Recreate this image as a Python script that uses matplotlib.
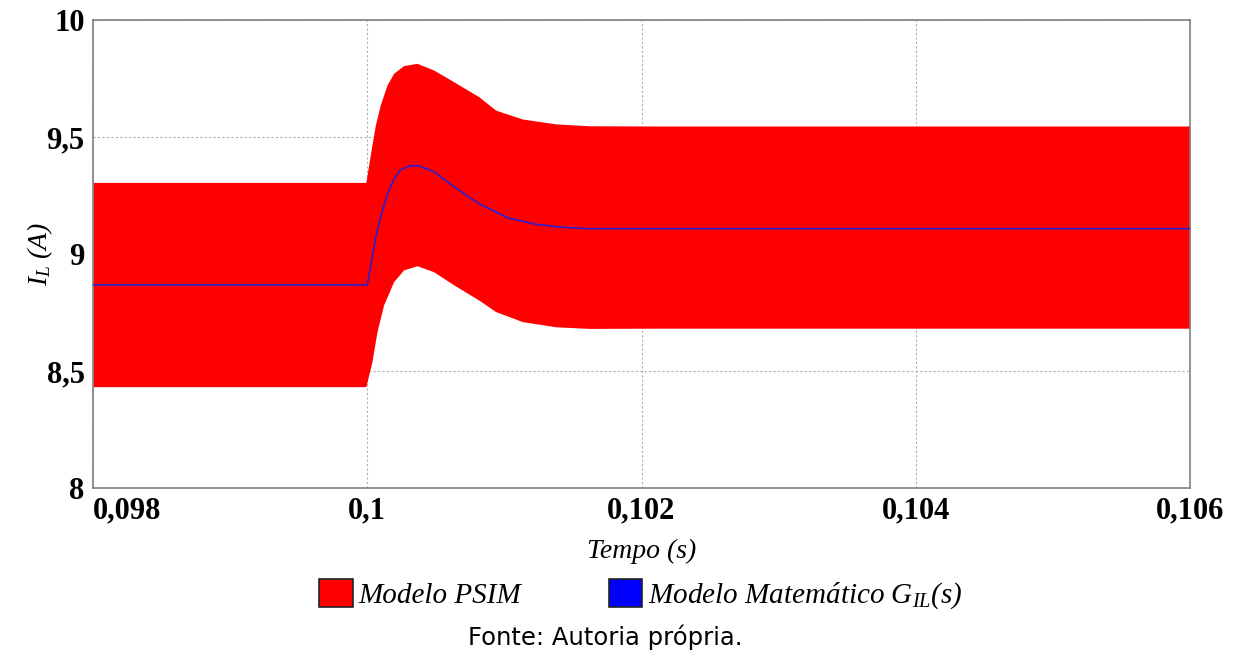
import matplotlib
matplotlib.use("Agg")
import matplotlib.pyplot as plt
from matplotlib.patches import Patch
import numpy as np

# ---- data ----
# PSIM model: envelope of the switching ripple (upper / lower)
t_env_up = [0.098, 0.09999, 0.100022, 0.100059, 0.100095, 0.100144, 0.100192, 0.100265,
            0.100363, 0.100485, 0.100631, 0.100814, 0.100936, 0.101131, 0.101375,
            0.101618, 0.102106, 0.106]
i_env_up = [9.306, 9.306, 9.423, 9.551, 9.637, 9.722, 9.772, 9.805,
            9.815, 9.786, 9.736, 9.672, 9.615, 9.577, 9.556,
            9.548, 9.547, 9.547]

t_env_lo = [0.098, 0.09999, 0.100034, 0.100071, 0.100119, 0.100192, 0.100265, 0.100363,
            0.100485, 0.100631, 0.100814, 0.100936, 0.101131, 0.101375, 0.101618,
            0.102106, 0.106]
i_env_lo = [8.433, 8.433, 8.540, 8.668, 8.782, 8.882, 8.932, 8.950,
            8.924, 8.868, 8.803, 8.754, 8.711, 8.689, 8.682,
            8.683, 8.683]

# Mathematical model G_IL(s)
t_model = [0.098, 0.1, 0.100022, 0.100059, 0.100095, 0.100144, 0.100192, 0.100241,
           0.100314, 0.100375, 0.100485, 0.100631, 0.100814, 0.101033, 0.101229,
           0.101424, 0.101618, 0.102106, 0.106]
i_model = [8.868, 8.868, 8.939, 9.060, 9.153, 9.252, 9.316, 9.359,
           9.377, 9.377, 9.352, 9.288, 9.215, 9.153, 9.127,
           9.114, 9.108, 9.108, 9.108]

x_ticks = [0.098, 0.100, 0.102, 0.104, 0.106]
x_labels = ["0,098", "0,1", "0,102", "0,104", "0,106"]
y_ticks = [8.0, 8.5, 9.0, 9.5, 10.0]
y_labels = ["8", "8,5", "9", "9,5", "10"]

plt.rcParams["mathtext.fontset"] = "custom"
plt.rcParams["mathtext.it"] = "Liberation Serif:italic"
plt.rcParams["mathtext.rm"] = "Liberation Serif"

fig = plt.figure(figsize=(12.37, 6.57), dpi=100)
ax = fig.add_axes([93/1237, 1-488/657, (1190-93)/1237, (488-20)/657])

# PSIM band
t_common = np.array(sorted(set(t_env_up) | set(t_env_lo)))
up = np.interp(t_common, t_env_up, i_env_up)
lo = np.interp(t_common, t_env_lo, i_env_lo)
ax.fill_between(t_common, lo, up, color="#ff0000", linewidth=0, zorder=2)
ax.plot(t_model, i_model, color="#2a1fd0", lw=1.2, zorder=3, solid_joinstyle="round")

ax.set_xlim(0.098, 0.106)
ax.set_ylim(8, 10)
ax.set_xticks(x_ticks)
ax.set_xticklabels(x_labels)
ax.set_yticks(y_ticks)
ax.set_yticklabels(y_labels)
ax.tick_params(length=0, pad=6)
for lab in ax.get_xticklabels() + ax.get_yticklabels():
    lab.set_fontfamily("Liberation Serif")
    lab.set_fontsize(22)
    lab.set_fontweight("bold")
ax.get_xticklabels()[0].set_horizontalalignment("left")
ax.grid(True, color="#b0b0b0", linestyle=(0, (2, 2)), lw=0.8, zorder=1)
ax.set_axisbelow(True)
for s in ax.spines.values():
    s.set_color("#808080")
    s.set_linewidth(1.2)

ax.set_xlabel("Tempo (s)", fontfamily="Liberation Serif", fontstyle="italic",
              fontsize=20, labelpad=10)
ax.set_ylabel(r"$I_L$ (A)", fontfamily="Liberation Serif", fontstyle="italic",
              fontsize=20, labelpad=0)
ax.yaxis.set_label_coords(-38/1097, 0.5)

handles = [Patch(facecolor="#ff0000", edgecolor="#222222", lw=1.2),
           Patch(facecolor="#0000ff", edgecolor="#222222", lw=1.2)]
labels = ["Modelo PSIM", r"Modelo Matemático $G_{IL}$(s)"]
leg = fig.legend(handles, labels, loc="center", bbox_to_anchor=(641/1237, 1-595/657),
                 ncol=2, frameon=False, handlelength=1.15, handleheight=1.1,
                 handletextpad=0.2, columnspacing=3.0,
                 prop={"family": "Liberation Serif", "style": "italic", "size": 21})

fig.text(605/1237, 1-637/657, "Fonte: Autoria própria.", ha="center", va="center",
         fontsize=17.5, fontfamily="DejaVu Sans")

fig.savefig("out.png", dpi=100)
